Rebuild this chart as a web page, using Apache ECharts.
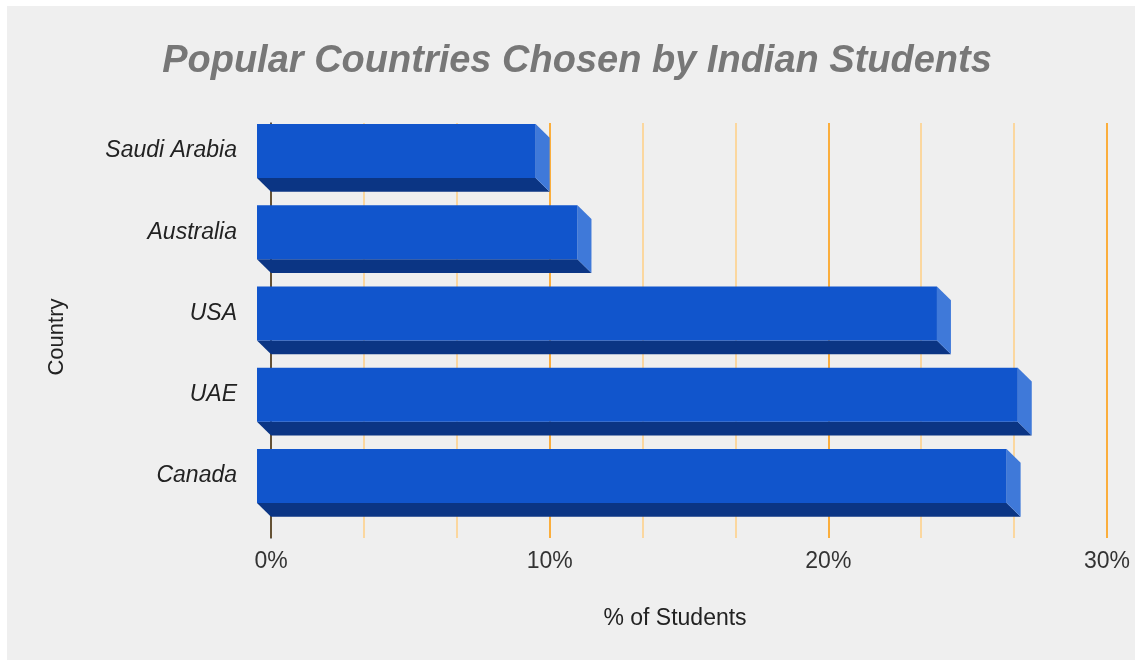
<!DOCTYPE html>
<html>
<head>
<meta charset="utf-8">
<script src="https://cdn.jsdelivr.net/npm/echarts@6/dist/echarts.min.js"></script>
<style>
  html, body { margin: 0; padding: 0; background: #ffffff; }
  #chart { width: 1135px; height: 660px; }
</style>
</head>
<body>
<div id="chart"></div>
<script>
// Share of Indian students by destination country (percent)
const countries = ['Saudi Arabia', 'Australia', 'USA', 'UAE', 'Canada'];
const shares = [10.0, 11.5, 24.4, 27.3, 26.9];
const percentTicks = [0, 10, 20, 30];

const FRONT = '#1155cc';
const SIDE = '#3f79d9';
const BOTTOM = '#0b3584';
const DEPTH_X = 14;
const DEPTH_Y = 13.7;
const FONT = '"Liberation Sans", Arial, sans-serif';

const chart = echarts.init(document.getElementById('chart'));

// Extruded bar: front face plus a bottom and right side pushed back by the depth offset
function renderBar(params, api) {
  const value = api.value(0);
  const cat = api.value(1);
  const start = api.coord([0, cat]);
  const end = api.coord([value, cat]);
  const h = api.size([0, 1])[1] * 0.665;
  const x0 = start[0], x1 = end[0];
  const yt = start[1] - h / 2, yb = start[1] + h / 2;
  return {
    type: 'group',
    children: [
      { type: 'polygon', shape: { points: [[x0, yb], [x1, yb], [x1 + DEPTH_X, yb + DEPTH_Y], [x0 + DEPTH_X, yb + DEPTH_Y]] },
        style: { fill: BOTTOM } },
      { type: 'polygon', shape: { points: [[x1, yt], [x1 + DEPTH_X, yt + DEPTH_Y], [x1 + DEPTH_X, yb + DEPTH_Y], [x1, yb]] },
        style: { fill: SIDE } },
      { type: 'rect', shape: { x: x0, y: yt, width: x1 - x0, height: h },
        style: { fill: FRONT } }
    ]
  };
}

chart.setOption({
  backgroundColor: '#ffffff',
  animation: false,
  title: {
    text: 'Popular Countries Chosen by Indian Students',
    left: 572,
    textAlign: 'center',
    top: 38,
    textStyle: { fontFamily: FONT, fontSize: 38, fontWeight: 'bold', fontStyle: 'italic', color: '#777777' }
  },
  graphic: [
    { type: 'rect', z: -100, silent: true, shape: { x: 7, y: 6, width: 1128, height: 654 }, style: { fill: '#efefef' } },
    { type: 'text', x: 57, y: 337, rotation: Math.PI / 2, silent: true,
      style: { text: 'Country', fontFamily: FONT, fontSize: 22, fill: '#222222', align: 'center', verticalAlign: 'middle' } }
  ],
  grid: [
    // front plane: bars and category labels
    { left: 257, right: 42, top: 110.4, bottom: 143.4 },
    // back plane: grid lines and percent labels
    { left: 271, right: 28, top: 123, bottom: 122 }
  ],
  xAxis: [
    { gridIndex: 0, type: 'value', min: 0, max: 30,
      axisLine: { show: false }, axisTick: { show: false }, axisLabel: { show: false }, splitLine: { show: false },
      name: '% of Students', nameLocation: 'middle', nameGap: 91,
      nameTextStyle: { fontFamily: FONT, fontSize: 23, color: '#222222' } },
    { gridIndex: 1, type: 'value', min: percentTicks[0], max: percentTicks[percentTicks.length - 1], interval: 10,
      axisLine: { show: false }, axisTick: { show: false },
      axisLabel: { margin: 12, fontFamily: FONT, fontSize: 23, color: '#333333', formatter: '{value}%' },
      splitLine: { show: true, lineStyle: { color: '#ff9900', width: 1.5 } },
      minorTick: { show: false, splitNumber: 3 },
      minorSplitLine: { show: true, lineStyle: { color: '#ffcf85', width: 1.5 } } }
  ],
  yAxis: [
    { gridIndex: 0, type: 'category', data: countries, inverse: true,
      axisLine: { show: false }, axisTick: { show: false },
      axisLabel: { margin: 20, padding: [4, 0, 0, 0], fontFamily: FONT, fontSize: 23, fontStyle: 'italic', color: '#222222' } },
    { gridIndex: 1, type: 'value', min: 0, max: 1, z: 3,
      axisLine: { show: true, lineStyle: { color: '#333333', width: 1.5 } },
      axisTick: { show: false }, axisLabel: { show: false }, splitLine: { show: false } }
  ],
  series: [{
    type: 'custom',
    xAxisIndex: 0,
    yAxisIndex: 0,
    renderItem: renderBar,
    encode: { x: 0, y: 1 },
    data: shares.map((v, i) => [v, i]),
    z: 5
  }]
});
</script>
</body>
</html>
